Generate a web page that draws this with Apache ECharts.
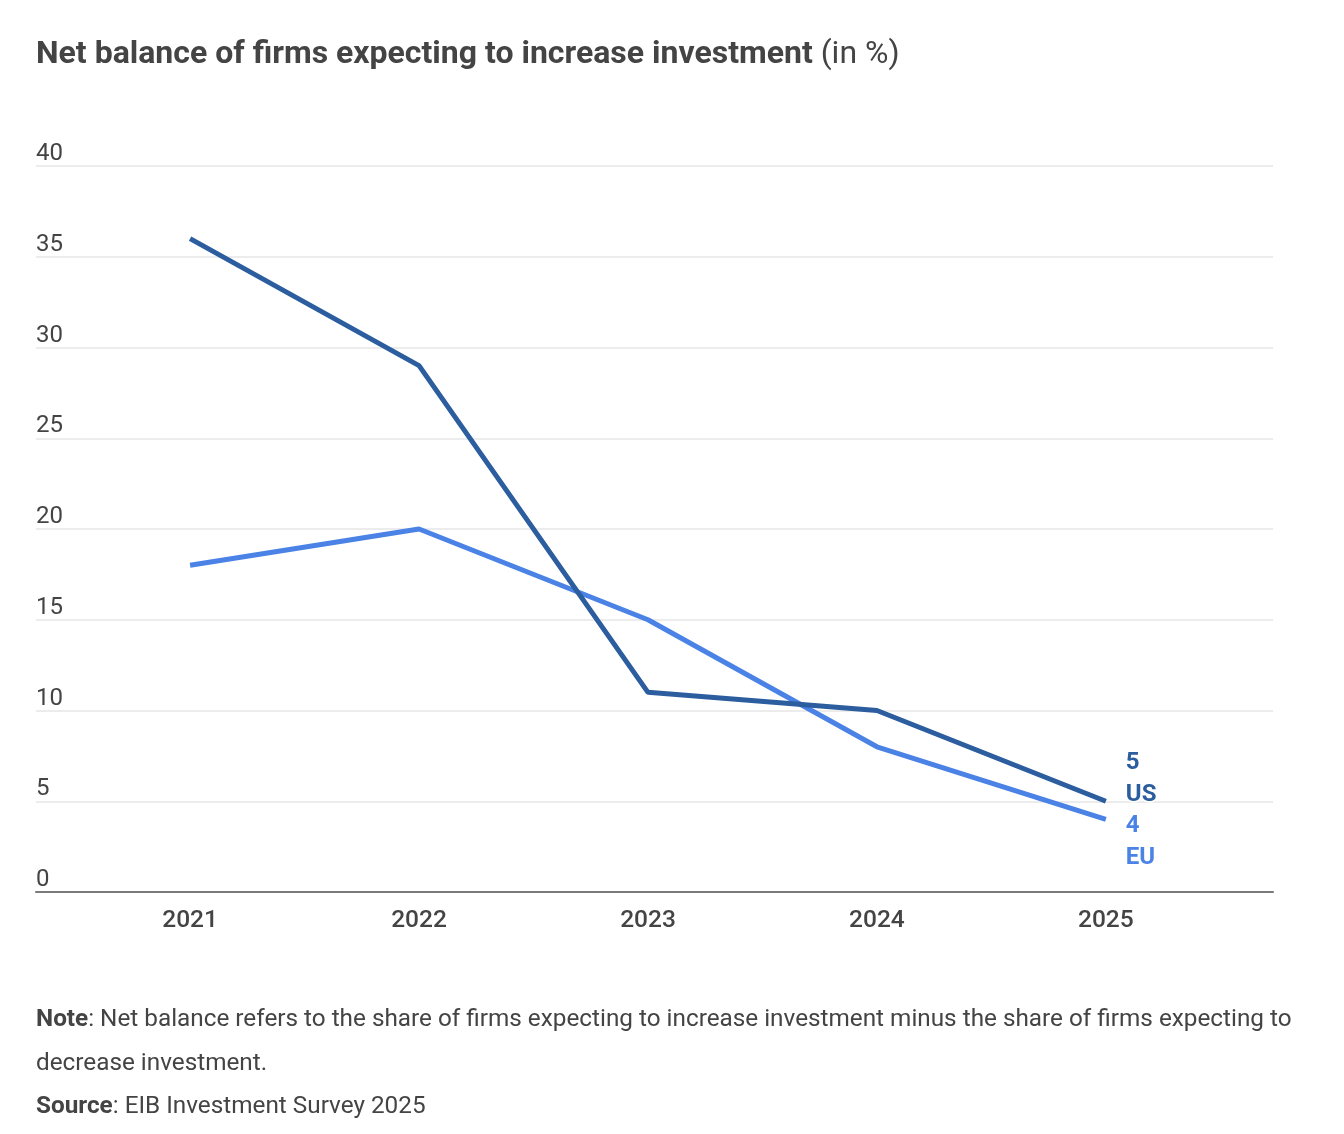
<!DOCTYPE html>
<html>
<head>
<meta charset="utf-8">
<script src="https://cdn.jsdelivr.net/npm/echarts@6/dist/echarts.min.js"></script>
<style>
html,body{margin:0;padding:0;background:#fff;}
#c{width:1344px;height:1134px;}
</style>
</head>
<body>
<div id="c"></div>
<script>
const years = [2021, 2022, 2023, 2024, 2025];
const usValues = [36, 29, 11, 10, 5];
const euValues = [18, 20, 15, 8, 4];
const yTicks = [0, 5, 10, 15, 20, 25, 30, 35, 40];

const US_COLOR = '#2b5d9f';
const EU_COLOR = '#4a82e6';
const FONT = 'Roboto';

function pairs(vals){ return years.map((y,i)=>[y, vals[i]]); }

function seriesFor(name, vals, color, offsetY){
  return {type:'line', name:name, data:pairs(vals), symbol:'none', showSymbol:false,
    lineStyle:{color:color, width:5}, itemStyle:{color:color}, z: name==='US'?3:2, animation:false,
    endLabel:{show:true, distance:20, offset:[0, offsetY],
      formatter: () => vals[vals.length-1] + '\n' + name,
      color: color, fontFamily: FONT, fontWeight:'bold', fontSize:24, lineHeight:32, align:'left',
      textBorderColor:'#fff', textBorderWidth:3}
  };
}

const chart = echarts.init(document.getElementById('c'), null, {renderer:'canvas'});
chart.setOption({
  animation:false,
  backgroundColor:'#fff',
  textStyle:{fontFamily:FONT},
  grid:{left:36, right:71, top:166, bottom:242, containLabel:false},
  xAxis:{type:'value', min:2020.327, max:2025.73,
    axisLine:{show:true, lineStyle:{color:'#7a7a7a', width:2}},
    axisTick:{show:false}, splitLine:{show:false},
    axisLabel:{customValues:years, formatter:v=>String(v), color:'#444', fontSize:24.5, fontWeight:500, fontFamily:FONT, margin:16}
  },
  yAxis:{type:'value', min:0, max:40, interval:5,
    axisLine:{show:false}, axisTick:{show:false},
    splitLine:{show:true, lineStyle:{color:'#e6e6e6', width:1.5}},
    axisLabel:{inside:true, margin:0, align:'left', verticalAlign:'bottom', padding:[0,0,0,0],
      color:'#444', fontSize:24, fontFamily:FONT,
      formatter:v=> yTicks.includes(v) ? String(v) : ''}
  },
  series:[ seriesFor('EU', euValues, EU_COLOR, 23), seriesFor('US', usValues, US_COLOR, -22) ],
  graphic:[
    {type:'text', left:36, top:39, style:{
      text:'{b|Net balance of firms expecting to increase investment}{n| (in %)}',
      rich:{b:{fontFamily:FONT, fontWeight:'bold', fontSize:32, fill:'#444'},
            n:{fontFamily:FONT, fontSize:32, fill:'#444'}}
    }},
    {type:'text', left:36, top:1008, style:{
      text:'{b|Note}{n|: Net balance refers to the share of firms expecting to increase investment minus the share of firms expecting to}\n{n|decrease investment.}\n{b|Source}{n|: EIB Investment Survey 2025}',
      rich:{b:{fontFamily:FONT, fontWeight:'bold', fontSize:24.3, fill:'#444', lineHeight:43.5},
            n:{fontFamily:FONT, fontSize:24.3, fill:'#444', lineHeight:43.5}}
    }}
  ]
});
</script>
</body>
</html>
